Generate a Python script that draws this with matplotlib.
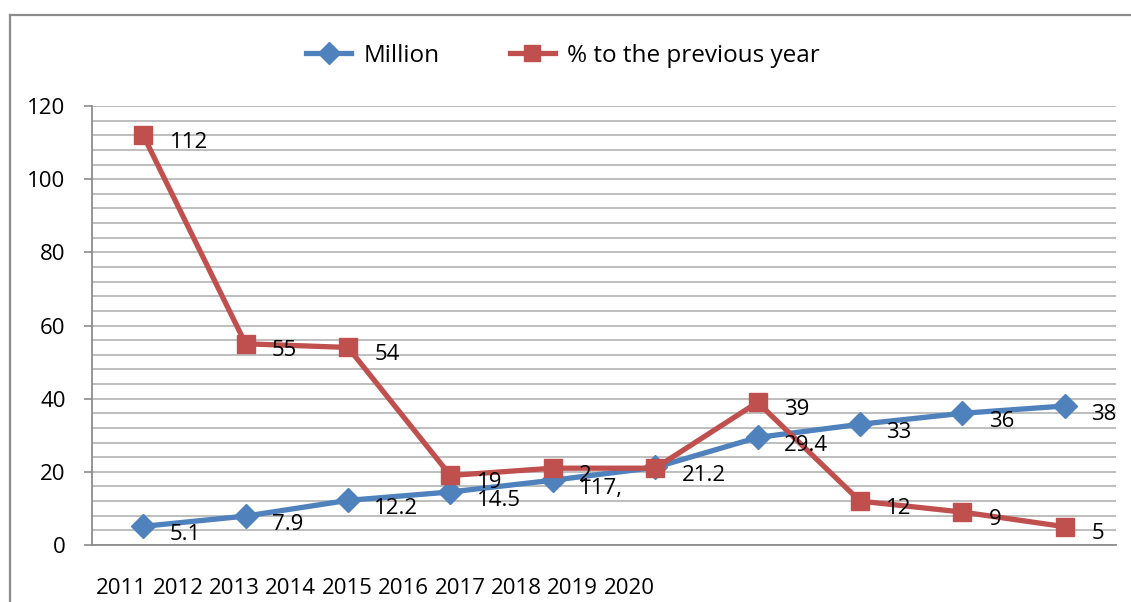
import matplotlib
matplotlib.use('Agg')
import matplotlib.pyplot as plt
from matplotlib.lines import Line2D

# series values
years = ['2011', '2012', '2013', '2014', '2015', '2016', '2017', '2018', '2019', '2020']
million = [5.1, 7.9, 12.2, 14.5, 17.7, 21.2, 29.4, 33, 36, 38]
million_labels = ['5.1', '7.9', '12.2', '14.5', '117,', '21.2', '29.4', '33', '36', '38']
prev_year = [112, 55, 54, 19, 21, 21, 39, 12, 9, 5]
prev_year_labels = ['112', '55', '54', '19', '2', '', '39', '12', '9', '5']

blue = '#4F81BD'
red = '#C0504D'
grey = '#8C8C8C'
fs = 16

plt.rcParams['font.family'] = ['Open Sans', 'DejaVu Sans']

W, H = 1131, 602
fig = plt.figure(figsize=(W / 100, H / 100), dpi=100)
ax = fig.add_axes([92 / W, 1 - 545 / H, (1116 - 92) / W, (545 - 106) / H])

x = list(range(len(years)))
ax.plot(x, million, color=blue, lw=3.8, marker='D', ms=12,
        label='Million', zorder=3)
ax.plot(x, prev_year, color=red, lw=3.8, marker='s', ms=13.5,
        label='% to the previous year', zorder=4)

for xi, v, t in zip(x, million, million_labels):
    ax.annotate(t, (xi, v), xytext=(19, -6), textcoords='offset points',
                ha='left', va='center', fontsize=fs, color='black', zorder=5)
for xi, v, t in zip(x, prev_year, prev_year_labels):
    if t:
        ax.annotate(t, (xi, v), xytext=(19, -5), textcoords='offset points',
                    ha='left', va='center', fontsize=fs, color='black', zorder=5)

ax.set_xlim(-0.5, len(years) - 0.5)
ax.set_ylim(0, 120)
ax.set_yticks(range(0, 121, 20))
ax.set_yticks(range(0, 121, 4), minor=True)
ax.set_xticks([])
ax.tick_params(axis='y', which='major', labelsize=fs, length=6, width=1.2,
               color=grey, pad=13)
ax.tick_params(axis='y', which='minor', length=0)
ax.grid(axis='y', which='both', color='#BEBEBE', lw=1.4, zorder=0)
ax.set_axisbelow(True)

for s in ['top', 'right']:
    ax.spines[s].set_visible(False)
for s in ['left', 'bottom']:
    ax.spines[s].set_color(grey)
    ax.spines[s].set_linewidth(1.3)

ax.legend(loc='center', bbox_to_anchor=(563 / W, 1 - 56 / H),
          bbox_transform=fig.transFigure, ncol=2, frameon=False,
          fontsize=17.5, handlelength=1.85, handletextpad=0.5,
          columnspacing=2.9, markerscale=0.9)

# category labels written along the bottom
for i, y in enumerate(years):
    fig.text((96 + i * 56.4) / W, 1 - 588 / H, y, ha='left', va='center',
             fontsize=fs)

# outer chart frame
fig.add_artist(Line2D([10 / W, 10 / W], [0, 1 - 15 / H], color=grey, lw=1.6))
fig.add_artist(Line2D([10 / W, 1], [1 - 15 / H, 1 - 15 / H], color=grey, lw=1.6))

fig.savefig('out.png', dpi=100)
